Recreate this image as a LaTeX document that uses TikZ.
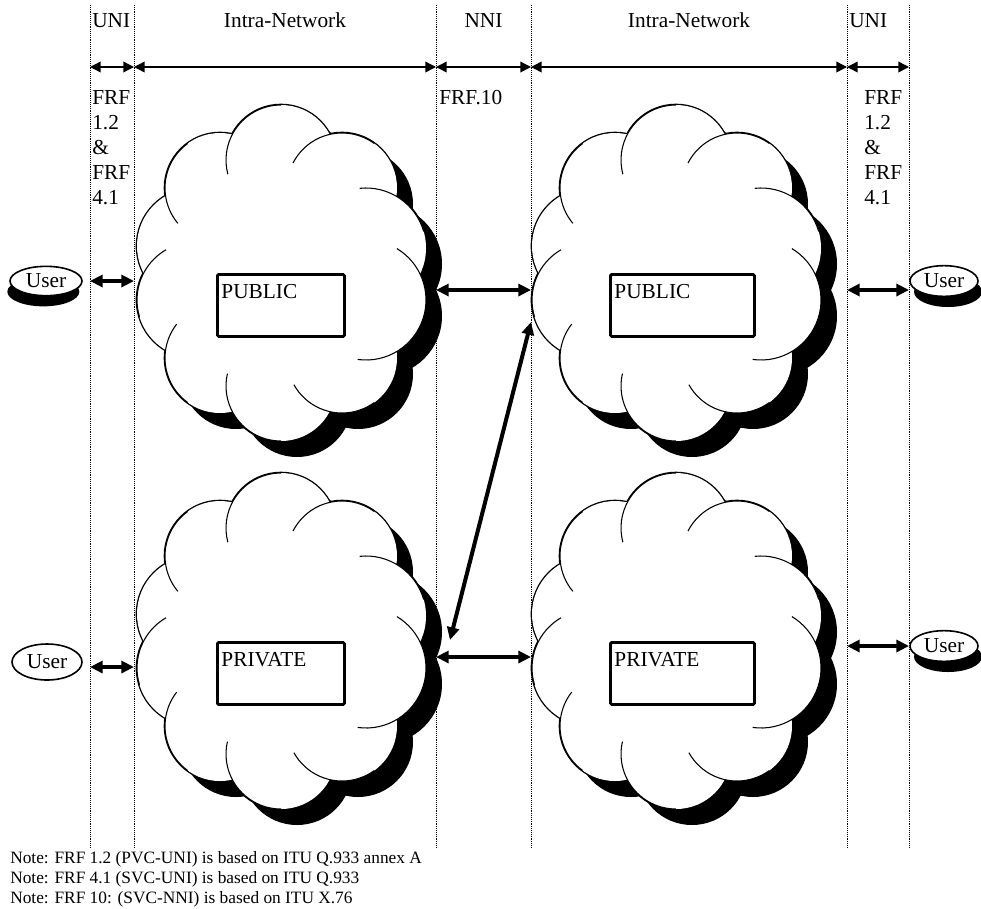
\documentclass[tikz,border=0pt]{standalone}
\usepackage{fontspec}
\setmainfont{Liberation Serif}
\usetikzlibrary{positioning, arrows.meta, shapes.geometric, shadows}

% puffs of a cloud: x/y/radius (pixel units, y down)
\def\puffs{0/-113/55, 61/-85/55, 85/-25/60, 85/27/60, 61/85/55, 0/113/55, -61/85/55, -86/27/58, -86/-27/58, -61/-85/55}
% inner arcs: x/y/radius/start/end
\def\puffarcs{0/-113/55/-90/-195, 61/-85/55/-54/-153, 85/-25/60/-16/-96, 85/27/60/18/-59, 85/27/60/18/98, 61/85/55/54/151, 0/113/55/90/193, -61/85/55/126/218, -86/27/58/163/240, -61/-85/55/-126/-220}

\tikzset{
  pics/netcloud/.style={code={
    % shadow
    \foreach \px/\py/\pr in \puffs {\fill[black] (\px+16,\py+16) circle (\pr);}
    \fill[black] (16,16) ellipse (95 and 110);
    % outline
    \foreach \px/\py/\pr in \puffs {\draw[line width=2pt] (\px,\py) circle (\pr);}
    \foreach \px/\py/\pr in \puffs {\fill[white] (\px,\py) circle (\pr);}
    \fill[white] (0,0) ellipse (95 and 110);
    \foreach \px/\py/\pr/\a/\b in \puffarcs {\draw[line width=0.8pt] (\px,\py) ++(\a:\pr) arc[start angle=\a, end angle=\b, radius=\pr];}
  }}
}

\begin{document}
\begin{tikzpicture}[x=0.75pt, y=-0.75pt,
    sepline/.style={line width=0.6pt, dash pattern=on 0.6pt off 0.8pt},
    dimarrow/.style={line width=1.1pt, {Triangle[length=8pt,width=8pt]}-{Triangle[length=8pt,width=8pt]}},
    linkarrow/.style={line width=3pt, {Triangle[length=9.5pt,width=9pt]}-{Triangle[length=9.5pt,width=9pt]}},
    lbl/.style={font=\fontsize{16}{18}\selectfont, inner sep=0pt},
    note/.style={font=\fontsize{13}{15}\selectfont, inner sep=0pt},
    netbox/.style={draw, line width=2.2pt, rounded corners=1pt, anchor=north west, inner xsep=3pt, inner ysep=0pt,
      text height=18pt, text depth=28.5pt, align=left, font=\fontsize{16}{18}\selectfont},
    user/.style={draw, ellipse, line width=1.2pt, fill=white, inner sep=0pt, font=\fontsize{16}{18}\selectfont},
    shadowleft/.style={general shadow={fill=black, shadow xshift=-2pt, shadow yshift=-8pt}},
    shadowright/.style={general shadow={fill=black, shadow xshift=3pt, shadow yshift=-8pt}}]
  \useasboundingbox (0,0) rectangle (981,908);

  % separators
  \foreach \n/\x in {A/90, B/134, C/436, D/531, E/847, F/909} {
    \coordinate (top\n) at (\x,5);
    \coordinate (bot\n) at (\x,847);
    \draw[sepline] (top\n) -- (bot\n);
  }

  % clouds
  \pic at (281,273) {netcloud};
  \pic at (676,273) {netcloud};
  \pic at (281,641) {netcloud};
  \pic at (676,641) {netcloud};

  \node[netbox, text width=89.25pt] (pubL) at (216,273) {PUBLIC};
  \node[netbox, text width=102pt] (pubR) at (609,273) {PUBLIC};
  \node[netbox, text width=89.25pt] (privL) at (216,641) {PRIVATE};
  \node[netbox, text width=102pt] (privR) at (609,641) {PRIVATE};

  % users
  \node[user, shadowleft, minimum width=54pt, minimum height=22pt] (userA) at (46,281) {User};
  \node[user, minimum width=52.5pt, minimum height=27pt] (userB) at (47,662) {User};
  \node[user, shadowright, minimum width=51pt, minimum height=23pt] (userC) at (944,281) {User};
  \node[user, shadowright, minimum width=51pt, minimum height=23pt] (userD) at (944,646) {User};

  % top dimension arrows
  \foreach \p/\q in {A/B, B/C, C/D, D/E, E/F}
    \draw[dimarrow] (top\p |- 0,67) -- (top\q |- 0,67);

  % links
  \draw[linkarrow] (topA |- 0,281) -- (topB |- 0,281);
  \draw[linkarrow] (topC |- 0,290) -- (topD |- 0,290);
  \draw[linkarrow] (topE |- 0,290) -- (topF |- 0,290);
  \draw[linkarrow] (topA |- 0,667) -- (topB |- 0,667);
  \draw[linkarrow] (topC |- 0,657) -- (topD |- 0,657);
  \draw[linkarrow] (topE |- 0,646) -- (topF |- 0,646);
  \coordinate (nniLow) at (450,640);
  \coordinate (nniHigh) at (531,322);
  \draw[linkarrow] (nniLow) -- (nniHigh);

  % labels
  \node[lbl, anchor=base west] (uniL) at (92,27) {UNI};
  \node[lbl, anchor=base] (intraL) at (285,27) {Intra-Network};
  \node[lbl, anchor=base] (nni) at (483.5,27) {NNI};
  \node[lbl, anchor=base] (intraR) at (689,27) {Intra-Network};
  \node[lbl, anchor=base west] (uniR) at (849,27) {UNI};
  \foreach \t [count=\k] in {FRF, 1.2, \&, FRF, 4.1} {
    \node[lbl, anchor=base west] (frfL\k) at (92,79+25*\k) {\t};
    \node[lbl, anchor=base west] (frfR\k) at (864,79+25*\k) {\t};
  }
  \node[lbl, anchor=base west] (frf10) at (439,104) {FRF.10};

  % notes
  \foreach \t [count=\k] in {{Note: FRF 1.2 (PVC-UNI) is based on ITU Q.933 annex A},
      {Note: FRF 4.1 (SVC-UNI) is based on ITU Q.933},
      {Note: FRF 10: (SVC-NNI) is based on ITU X.76}}
    \node[note, anchor=base west] (note\k) at (10,843+20*\k) {\t};
\end{tikzpicture}
\end{document}
